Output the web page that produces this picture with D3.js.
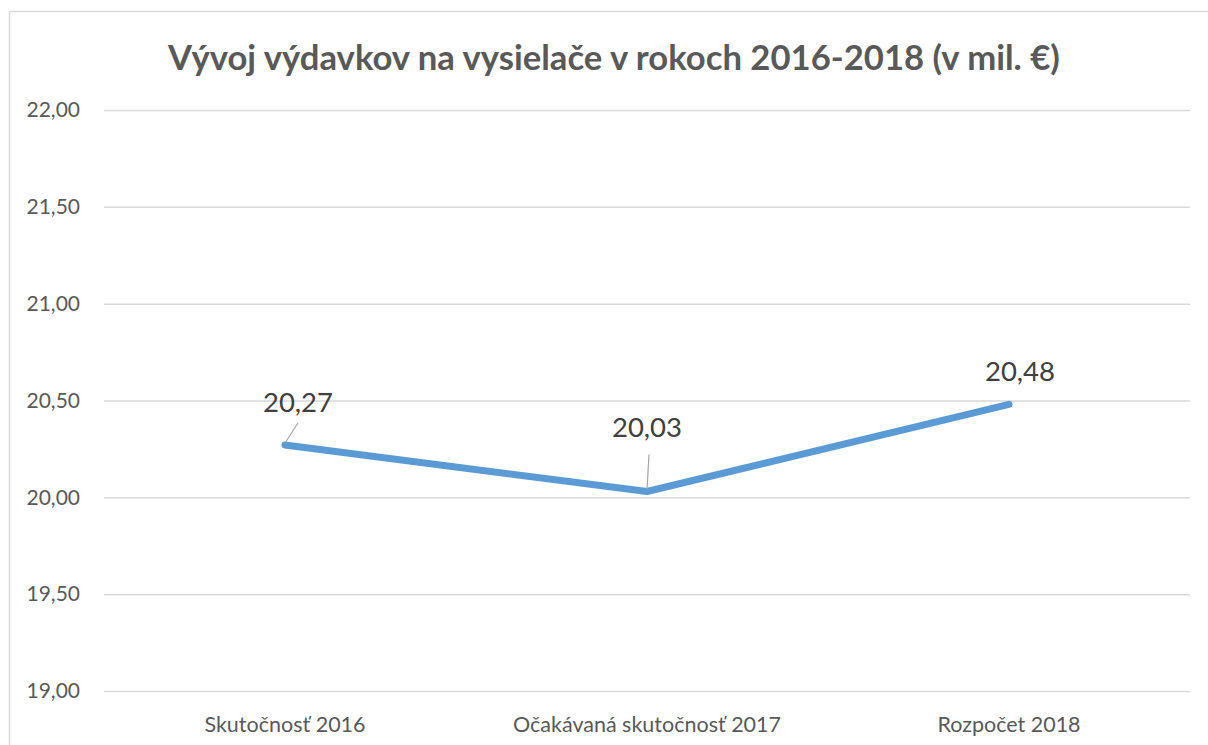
<!DOCTYPE html>
<html><head><meta charset="utf-8">
<script src="https://cdn.jsdelivr.net/npm/d3@7"></script>
<style>body{margin:0;background:#fff;} svg{display:block;}</style>
</head><body>
<svg id="c" width="1208" height="745"></svg>
<script>
const title = "Vývoj výdavkov na vysielače v rokoch 2016-2018 (v mil. €)";
const categories = ["Skutočnosť 2016", "Očakávaná skutočnosť 2017", "Rozpočet 2018"];
const values = [20.27, 20.03, 20.48];
const labels = ["20,27", "20,03", "20,48"];
const yTicks = [19.0, 19.5, 20.0, 20.5, 21.0, 21.5, 22.0];

const svg = d3.select("#c");
const font = "Lato, 'Open Sans', sans-serif";
const m = {left: 104, right: 1190, top: 110, bottom: 691};

svg.append("rect").attr("x", 9.5).attr("y", 11.5).attr("width", 1220).attr("height", 760)
  .attr("fill", "#fff").attr("stroke", "#d9d9d9").attr("stroke-width", 1.5);

const x = d3.scaleBand().domain(categories).range([m.left, m.right]);
const y = d3.scaleLinear().domain([19, 22]).range([m.bottom, m.top]);

const yAxis = d3.axisLeft(y).tickValues(yTicks).tickSize(-(m.right - m.left)).tickPadding(24)
  .tickFormat(d => d3.format(".2f")(d).replace(".", ","));
const gy = svg.append("g").attr("transform", `translate(${m.left},0)`).call(yAxis);
gy.select(".domain").remove();
gy.selectAll(".tick line").attr("stroke", "#d9d9d9").attr("stroke-width", 1.5);
gy.selectAll(".tick text").attr("fill", "#595959").style("font-family", font).style("font-size", "21px");

const xAxis = d3.axisBottom(x).tickSize(0).tickPadding(26);
const gx = svg.append("g").attr("transform", `translate(0,${m.bottom})`).call(xAxis);
gx.select(".domain").remove();
gx.selectAll(".tick text").attr("fill", "#595959").style("font-family", font).style("font-size", "21.5px");

const t = svg.append("text").attr("x", 614).attr("y", 70).attr("text-anchor", "middle")
  .attr("fill", "#595959").style("font-family", font).style("font-weight", "bold")
  .style("font-size", "28px").text(title);
const tw = t.node().getComputedTextLength();
t.style("font-size", (28 * 892 / tw) + "px");

const cx = d => x(d) + x.bandwidth() / 2;
const line = d3.line().x((d, i) => cx(categories[i])).y(d => y(d));
svg.append("path").datum(values).attr("d", line).attr("fill", "none")
  .attr("stroke", "#5b9bd5").attr("stroke-width", 7).attr("stroke-linecap", "round").attr("stroke-linejoin", "round");

const lblOff = [{dx: 13, dy: -33}, {dx: 0, dy: -55}, {dx: 11, dy: -23}];
const leader = [[{dx: 13, dy: -22}, {dx: 0, dy: -2}], [{dx: 2, dy: -37}, {dx: 0, dy: -2}], null];
values.forEach((v, i) => {
  const px = cx(categories[i]), py = y(v);
  if (leader[i]) {
    svg.append("line").attr("x1", px + leader[i][0].dx).attr("y1", py + leader[i][0].dy)
      .attr("x2", px + leader[i][1].dx).attr("y2", py + leader[i][1].dy)
      .attr("stroke", "#a6a6a6").attr("stroke-width", 1.2);
  }
  svg.append("text").attr("x", px + lblOff[i].dx).attr("y", py + lblOff[i].dy)
    .attr("text-anchor", "middle").attr("fill", "#404040")
    .style("font-family", font).style("font-size", "27.5px").text(labels[i]);
});
</script>
</body></html>
